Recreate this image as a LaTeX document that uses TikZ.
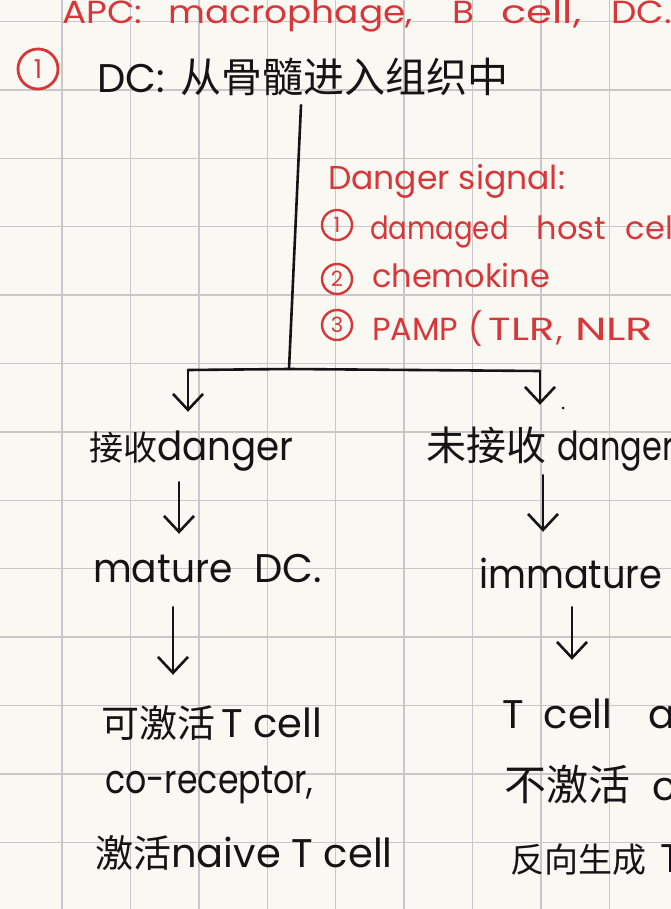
\documentclass[tikz,border=0pt]{standalone}
\usepackage{graphicx}
\usepackage{fontspec}
\setmainfont{Poppins}
\newfontfamily\cjk{Noto Sans CJK SC}
\usetikzlibrary{arrows.meta}
\definecolor{paper}{HTML}{FAF8F3}
\definecolor{gridc}{HTML}{C8C8C8}
\definecolor{ink}{HTML}{141414}
\definecolor{redink}{HTML}{D8373A}
\newcommand{\fs}[1]{\fontsize{#1}{#1}\selectfont}
\newcommand{\sx}[2]{\scalebox{#1}[1]{#2}}
\begin{document}
\begin{tikzpicture}[x=1pt,y=-1pt,
  blk/.style={anchor=base west, inner sep=0pt, text=ink, font=\fs{40}, text height=32pt, text depth=12pt},
  rtxt/.style={anchor=base west, inner sep=0pt, text=redink, font=\fs{32}},
  cnum/.style={circle, draw=redink, line width=2.4pt, minimum size=30pt, inner sep=0pt, text=redink, font=\fs{21}},
  ln/.style={draw=ink, line width=2.6pt, line cap=round, line join=round},
  arr/.style={ln, -{Straight Barb[length=16pt,width=30pt]}, shorten <=10pt, shorten >=16pt},
  gridline/.style={draw=gridc, line width=1.4pt}]
\fill[paper] (0,0) rectangle (671,909);
\useasboundingbox (0,0) rectangle (671,909);
\clip (0,0) rectangle (671,909);
\foreach \i in {0,...,10} \draw[gridline] ({-6.4+68.4*\i},0) -- ++(0,909);
\foreach \j in {0,...,13} \draw[gridline] (0,{21.5+68.4*\j}) -- ++(671,0);

% red notes
\node[rtxt] (apc) at (62,24) {\sx{1.12}{APC:}\hspace{26pt}\sx{1.12}{macrophage,}\hspace{40pt}\sx{1.12}{B}\hspace{27pt}\sx{1.3}{cell,}\hspace{30pt}\sx{1.12}{DC.}};
\node[cnum, minimum size=40pt, line width=2.8pt, font=\fs{26}] (n1) at (38,69) {1};
\node[rtxt, font=\fs{33}] (ds) at (328,190) {Danger signal:};
\node[cnum] (c1) at (337,225) {1};
\node[rtxt] (s1) at (370,240) {\sx{0.86}{damaged}\hspace{28pt}host\hspace{20pt}cell};
\node[cnum] (c2) at (337,279) {2};
\node[rtxt] (s2) at (372,287) {chemokine};
\node[cnum] (c3) at (337,325) {3};
\node[rtxt] (s3) at (372,340) {PAMP\hspace{10pt}(\hspace{6pt}\sx{1.3}{TLR}\hspace{2pt},\hspace{12pt}\sx{1.4}{NLR}};

% black text
\node[blk] (root) at (97,93) {DC:\hspace{16pt}{\cjk\fs{41}从骨髓进入组织中}};
\node[blk] (a) at (89,460) {{\cjk\fs{34}接收}\sx{0.93}{danger}};
\node[blk] (b) at (426,460) {{\cjk\fs{40}未接收}\hspace{11pt}\sx{0.8}{danger}};
\node[blk] (c) at (93,582) {\sx{0.94}{mature}\hspace{22pt}DC.};
\node[blk] (d) at (479,588) {\sx{0.92}{immature}};
\node[blk] (e1) at (101,737) {{\cjk\fs{38}可激活}\hspace{6pt}T cell};
\node[blk] (e2) at (105,793) {\sx{0.83}{co-receptor,}};
\node[blk] (e3) at (95,867) {{\cjk\fs{38}激活}naive T cell};
\node[blk] (f1) at (502,728) {T\hspace{20pt}cell\hspace{36pt}a};
\node[blk] (f2) at (504,800) {{\cjk\fs{42}不激活}\hspace{22pt}c};
\node[blk] (f3) at (510,872) {{\cjk\fs{34}反向生成}\hspace{14pt}T};

% tree
\coordinate (xs) at (301,0);
\coordinate (jn) at (289,369);
\coordinate (jl) at (188,370);
\coordinate (jr) at (540,371);
\coordinate (x2l) at (179,0);
\coordinate (x2r) at (543,0);
\coordinate (x3l) at (173,0);
\coordinate (x3r) at (572,0);
\draw[ln] (root.south -| xs) -- (jn);
\draw[ln] (jl) -- (jn) -- (jr);
\draw[arr, shorten <=0pt] (jl) -- (jl |- a.north);
\draw[arr, shorten <=0pt, shorten >=23pt] (jr) -- (jr |- b.north);
\fill[ink] (563,408) circle (1.5pt);
\draw[arr] (a.south -| x2l) -- (c.north -| x2l);
\draw[arr, shorten <=3pt, shorten >=24pt] (b.south -| x2r) -- (d.north -| x2r);
\draw[arr, shorten <=13pt, shorten >=30pt] (c.south -| x3l) -- (e1.north -| x3l);
\draw[arr, shorten <=7pt, shorten >=36pt] (d.south -| x3r) -- (f1.north -| x3r);
\end{tikzpicture}
\end{document}
